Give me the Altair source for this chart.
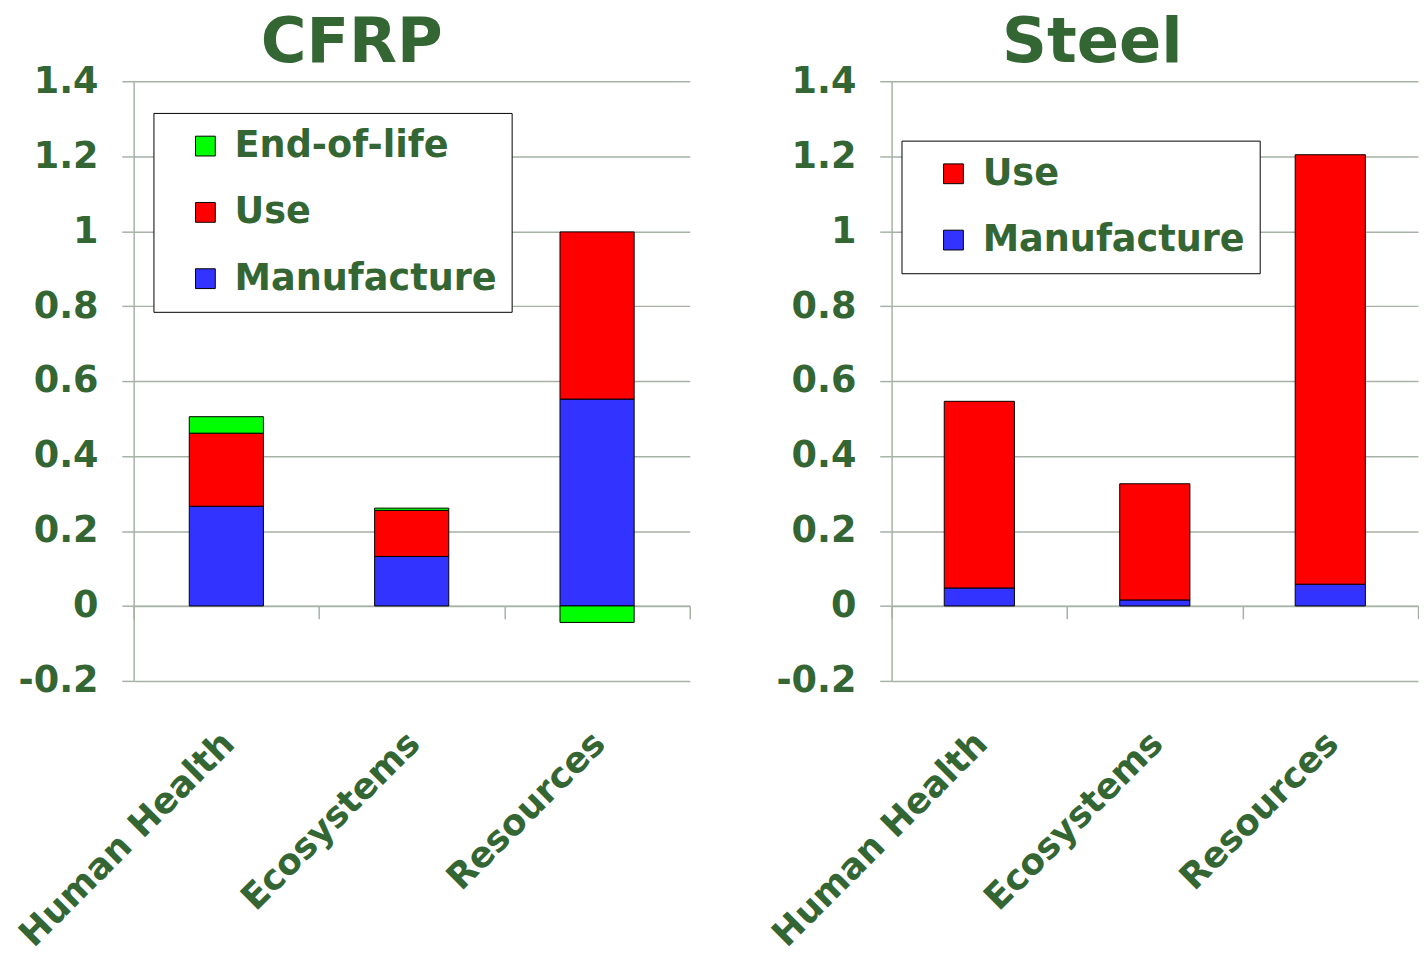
import altair as alt
import pandas as pd

categories = ["Human Health", "Ecosystems", "Resources"]

cfrp_phases = ["End-of-life", "Use", "Manufacture"]
cfrp_manufacture = [0.266, 0.132, 0.552]
cfrp_use = [0.195, 0.123, 0.446]
cfrp_eol = [0.044, 0.006, -0.044]

steel_phases = ["Use", "Manufacture"]
steel_manufacture = [0.048, 0.016, 0.058]
steel_use = [0.498, 0.310, 1.146]

y_ticks = [-0.2, 0, 0.2, 0.4, 0.6, 0.8, 1, 1.2, 1.4]

phase_colors = {"End-of-life": "#00ff00", "Use": "#ff0000", "Manufacture": "#3333ff"}
stack_rank = {"Manufacture": 0, "Use": 1, "End-of-life": 2}

GREEN = "#336633"
GRID = "#a6b2a6"
FONT = "DejaVu Sans"
H = 606
FS = 37


def make_df(series):
    rows = []
    for phase, vals in series.items():
        for c, v in zip(categories, vals):
            rows.append({"cat": c, "phase": phase, "value": v, "rank": stack_rank[phase]})
    return pd.DataFrame(rows)


def panel(title, df, phases, width, lx, ly):
    x_axis = alt.Axis(
        title=None, labelAngle=-45, labelAlign="right", labelBaseline="middle",
        labelFontSize=36, labelFont=FONT, labelFontWeight="bold", labelColor=GREEN,
        labelPadding=120, labelOffset=2, labelLimit=600, labelOverlap=False,
        tickBand="extent", tickSize=13,
        tickColor=GRID, tickWidth=1.5, domainColor=GRID, domainWidth=1.5,
        offset=-H * 0.2 / 1.6, grid=False,
    )
    y_axis = alt.Axis(
        title=None, values=y_ticks, grid=True, gridColor=GRID, gridWidth=1.5,
        domainColor=GRID, domainWidth=1.5, tickColor=GRID, tickWidth=1.5, tickSize=12,
        labelPadding=24, labelFontSize=FS, labelFont=FONT, labelFontWeight="bold",
        labelColor=GREEN, labelOverlap=False,
        labelExpr="datum.value < 0 ? '-' + (-datum.value) : '' + datum.value",
    )
    legend = alt.Legend(
        title=None, orient="none", legendX=lx, legendY=ly, direction="vertical",
        fillColor="white", strokeColor="black", padding=15, symbolOffset=19,
        symbolType="square", symbolSize=400, symbolStrokeColor="black",
        symbolStrokeWidth=1, labelFontSize=FS, labelFont=FONT, labelLimit=600,
        labelFontWeight="bold", labelColor=GREEN, labelOffset=11, rowPadding=29,
    )
    return alt.Chart(df).mark_bar(
        stroke="black", strokeWidth=1, width=alt.RelativeBandSize(0.4)
    ).encode(
        x=alt.X("cat:N", sort=categories, axis=x_axis,
                scale=alt.Scale(paddingInner=0, paddingOuter=0)),
        y=alt.Y("sum(value):Q", stack="zero", axis=y_axis,
                scale=alt.Scale(domain=[-0.2, 1.4], nice=False)),
        color=alt.Color("phase:N", legend=legend,
                        scale=alt.Scale(domain=phases,
                                        range=[phase_colors[p] for p in phases])),
        order=alt.Order("rank:Q", sort="ascending"),
    ).properties(
        width=width, height=H,
        title=alt.TitleParams(title, fontSize=63, font=FONT, fontWeight="bold",
                              color=GREEN, anchor="middle", frame="bounds", offset=-13),
    )


left = panel("CFRP", make_df({"Manufacture": cfrp_manufacture, "Use": cfrp_use,
                              "End-of-life": cfrp_eol}), cfrp_phases, 562, 20, 32)
right = panel("Steel", make_df({"Manufacture": steel_manufacture, "Use": steel_use}),
              steel_phases, 532, 10, 60)

chart = alt.hconcat(left, right, spacing=76).resolve_scale(
    color="independent", y="independent", x="independent"
).configure_view(strokeWidth=0).properties(
    padding={"left": 5, "top": 0, "right": 0, "bottom": 0}
)

chart.save("out.html", embed_options={"renderer": "svg", "actions": False})
